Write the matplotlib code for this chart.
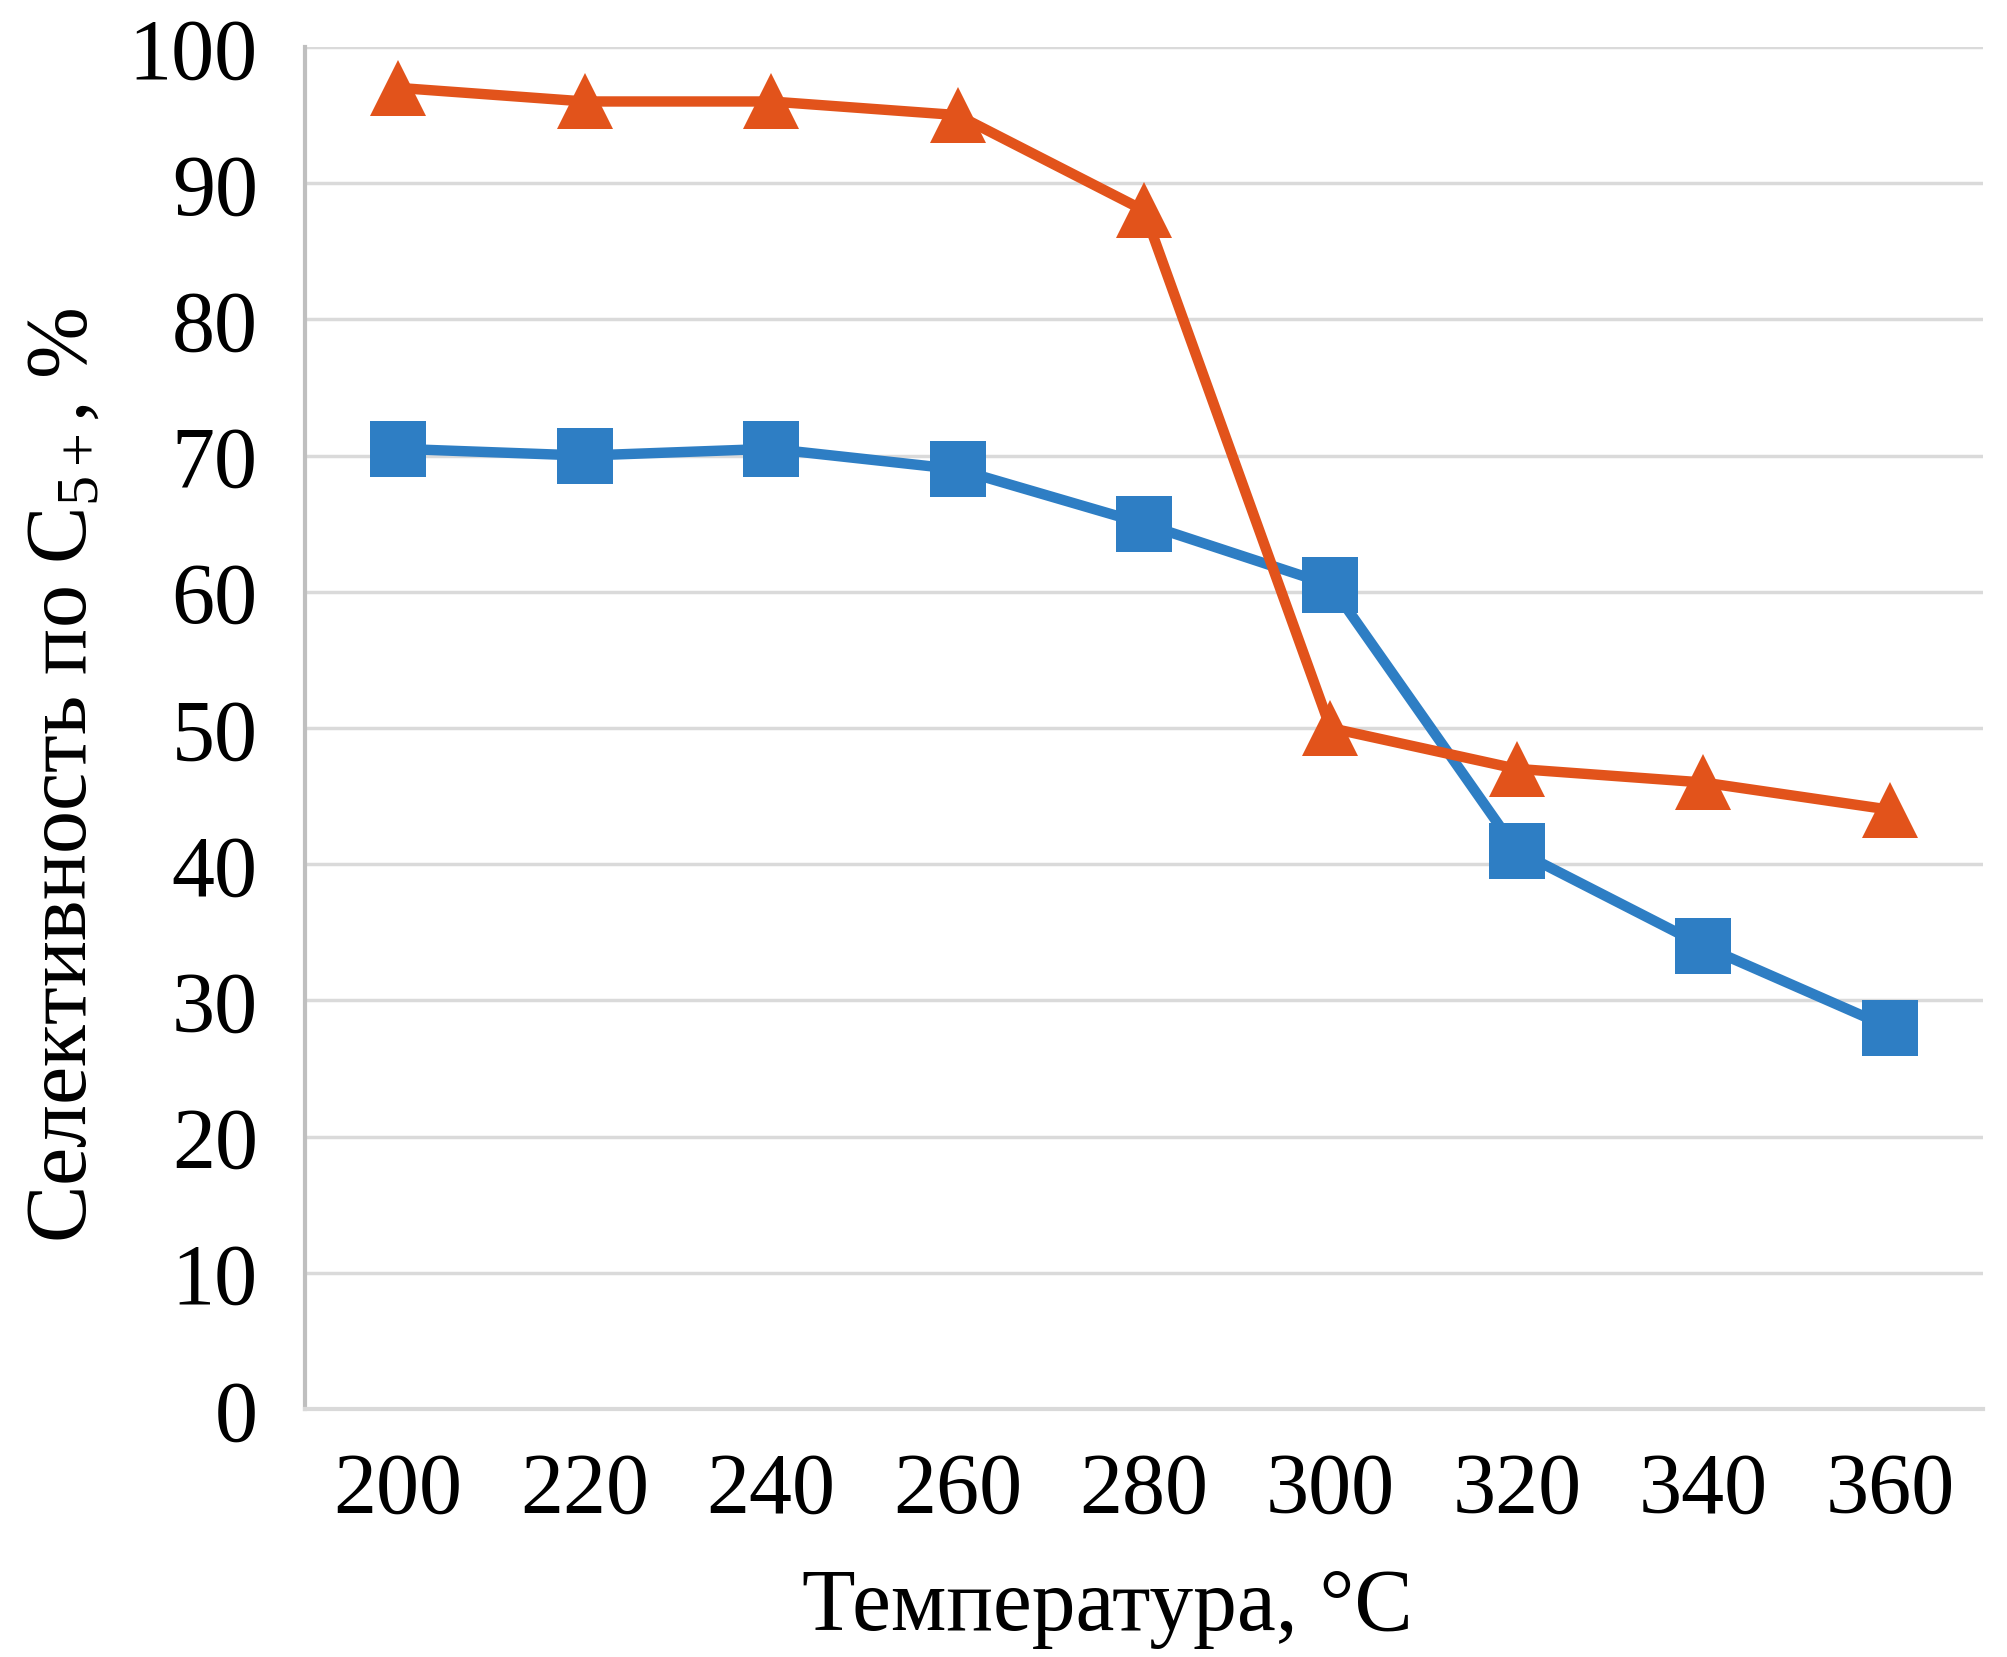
import matplotlib
matplotlib.use("Agg")
import matplotlib.pyplot as plt

temperatures = ["200", "220", "240", "260", "280", "300", "320", "340", "360"]
series_triangle = [97, 96, 96, 95, 88, 50, 47, 46, 44]
series_square = [70.5, 70, 70.5, 69, 65, 60.5, 41, 34, 28]
yticks = [0, 10, 20, 30, 40, 50, 60, 70, 80, 90, 100]

plt.rcParams['font.family'] = ['Liberation Serif', 'DejaVu Serif']
plt.rcParams['mathtext.fontset'] = 'custom'
plt.rcParams['mathtext.rm'] = 'Liberation Serif'
plt.rcParams['mathtext.it'] = 'Liberation Serif:italic'

fig = plt.figure(figsize=(20.08, 16.58), dpi=100)
ax = fig.add_axes([305/2008, 1 - 1410/1658, (1983-305)/2008, (1410-48)/1658])

x = list(range(len(temperatures)))
ax.plot(x, series_square, color='#2E7EC4', lw=7.5, marker='s', ms=40,
        markeredgewidth=0, zorder=3)
ax.plot(x, series_triangle, color='#E2531B', lw=7.5, marker='^', ms=40,
        markeredgewidth=0, zorder=4)

ax.set_xlim(-0.5, len(temperatures) - 0.5)
ax.set_ylim(0, 100)
ax.set_yticks(yticks)
ax.set_xticks(x)
ax.set_xticklabels(temperatures)
ax.tick_params(axis='both', length=0, labelsize=62)
ax.tick_params(axis='y', pad=34)
ax.tick_params(axis='x', pad=30)

ax.grid(axis='y', color='#DADADA', lw=2.5, zorder=0)
ax.set_axisbelow(True)
for s in ['top', 'right']:
    ax.spines[s].set_visible(False)
ax.spines['left'].set_color('#BFBFBF')
ax.spines['left'].set_linewidth(3)
ax.spines['bottom'].set_color('#D9D9D9')
ax.spines['bottom'].set_linewidth(3)

fig.text(65/2008, 1 - 775/1658, r'Селективность по C$_{5+}$, %', rotation=90,
         fontsize=62, ha='center', va='center')
fig.text(1107/2008, 1 - 1609/1658, 'Температура, °C', fontsize=63,
         ha='center', va='center')

fig.savefig('out.png', dpi=100, facecolor='white')
